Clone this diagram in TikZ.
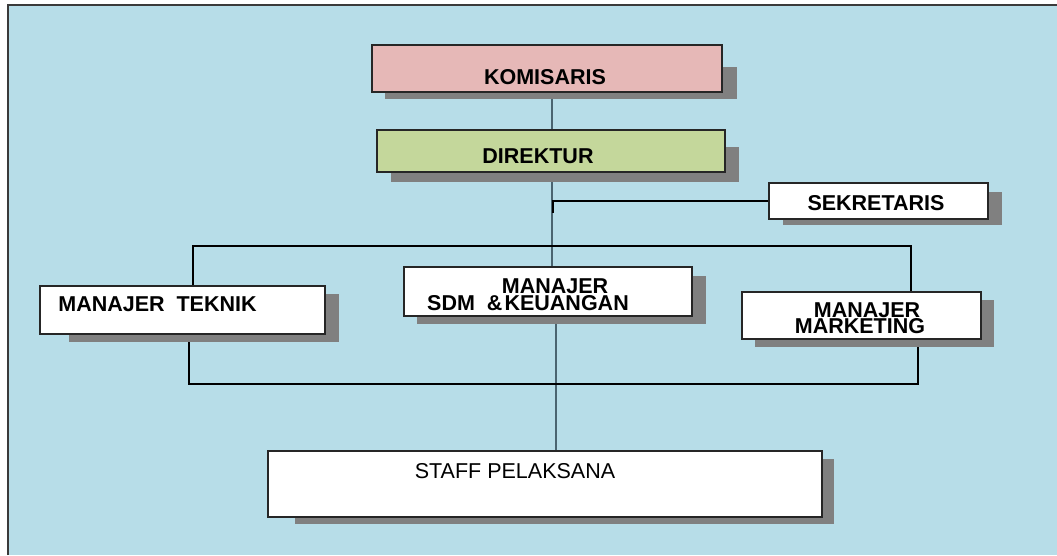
\documentclass[tikz,border=0pt]{standalone}
\usepackage{fontspec}
\setmainfont{Liberation Sans}
\definecolor{bgblue}{HTML}{B7DDE8}
\definecolor{kompink}{HTML}{E6B8B7}
\definecolor{dirgreen}{HTML}{C4D79B}
\definecolor{shadowgray}{HTML}{808080}
\definecolor{trunkcol}{HTML}{4A6470}
\definecolor{framecol}{HTML}{3A3A3A}
\begin{document}
\begin{tikzpicture}[x=1pt,y=-1pt,
  box/.style={draw=black!85, line width=1.3pt, fill=white, inner sep=0pt, outer sep=0pt, rectangle},
  shade/.style={fill=shadowgray},
  lbl/.style={font=\bfseries\fontsize{21.5}{21.5}\selectfont, inner sep=0pt, text=black},
  twoline/.style={font=\bfseries\fontsize{21.5}{#1}\selectfont, inner sep=0pt, text=black, align=center},
  plainlbl/.style={font=\fontsize{21.5}{21.5}\selectfont, inner sep=0pt, text=black},
  trunk/.style={draw=trunkcol, line width=2.4pt},
  conn/.style={draw=black, line width=1.4pt},
  frameline/.style={draw=framecol, line width=2pt}]
\useasboundingbox (0,0) rectangle (1057,555);
\fill[white] (0,0) rectangle (1057,555);
\fill[bgblue] (8,5) rectangle (1057,555);
\draw[frameline] (8,555) -- (8,5) -- (1057,5);

% coordinates for connector lines
\coordinate (t1) at (552,0);
\coordinate (t2) at (556,0);
\coordinate (sekTick) at (553,213);
\coordinate (busTopL) at (193,246);
\coordinate (busTopR) at (911,246);
\coordinate (busBotL) at (189,384);
\coordinate (busBotR) at (918,384);

% box outlines as named nodes (drawn later on top)
\path
  node[box, minimum width=350, minimum height=47, draw=none, fill=none] (kom) at (547,68.5) {}
  node[box, minimum width=348, minimum height=42, draw=none, fill=none] (dir) at (551,151) {}
  node[box, minimum width=219, minimum height=36, draw=none, fill=none] (sek) at (878.5,201) {}
  node[box, minimum width=285, minimum height=48, draw=none, fill=none] (tek) at (182.5,310) {}
  node[box, minimum width=288, minimum height=49, draw=none, fill=none] (sdm) at (548,291.5) {}
  node[box, minimum width=239, minimum height=47, draw=none, fill=none] (mkt) at (861.5,315.5) {}
  node[box, minimum width=554, minimum height=66, draw=none, fill=none] (staff) at (545,484) {};

% connectors
\draw[trunk] (t1 |- kom.south) -- (t1 |- dir.north);
\draw[trunk] (t1 |- dir.south) -- (t1 |- sdm.north);
\draw[trunk] (t2 |- sdm.south) -- (t2 |- staff.north);
\draw[conn] (sek.west) -- (sekTick |- sek.west) -- (sekTick);
\draw[conn] (busTopL |- tek.north) -- (busTopL) -- (busTopR) -- (busTopR |- mkt.north);
\draw[conn] (busBotL |- tek.south) -- (busBotL) -- (busBotR) -- (busBotR |- mkt.south);

% shadows
\fill[shade] (385,67) rectangle (737,99);
\fill[shade] (391,147) rectangle (739,182);
\fill[shade] (783,192) rectangle (1002,225);
\fill[shade] (69,294) rectangle (339,342);
\fill[shade] (417,276) rectangle (706,324);
\fill[shade] (755,300) rectangle (994,347);
\fill[shade] (295,459) rectangle (834,524);

% visible boxes
\draw[box, fill=kompink] (kom.north west) rectangle (kom.south east);
\draw[box, fill=dirgreen] (dir.north west) rectangle (dir.south east);
\draw[box] (sek.north west) rectangle (sek.south east);
\draw[box] (tek.north west) rectangle (tek.south east);
\draw[box] (sdm.north west) rectangle (sdm.south east);
\draw[box] (mkt.north west) rectangle (mkt.south east);
\draw[box] (staff.north west) rectangle (staff.south east);

% labels
\node[lbl] (komt) at (545,77.5) {KOMISARIS};
\node[lbl] (dirt) at (538,156.5) {DIREKTUR};
\node[lbl] (sekt) at (876,203) {SEKRETARIS};
\node[lbl] (tekt) at (157.5,304.5) {MANAJER\ \ TEKNIK};
\node[twoline=17] (sdmt) at (528,294.5) {\hspace*{54pt}MANAJER\\SDM\ \ \&\hspace{0.1em}KEUANGAN};
\node[twoline=16] (mktt) at (860,318) {\hspace*{14pt}MANAJER\\MARKETING};
\node[plainlbl] (stafft) at (515,471) {STAFF PELAKSANA};
\end{tikzpicture}
\end{document}
